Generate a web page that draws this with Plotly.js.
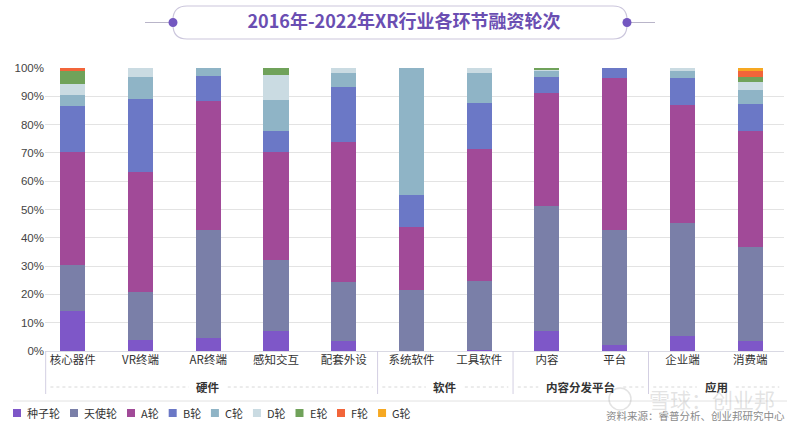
<!DOCTYPE html>
<html>
<head>
<meta charset="utf-8">
<script src="https://cdn.plot.ly/plotly-3.0.1.min.js"></script>
<style>
html,body{margin:0;padding:0;background:#fff;}
#chart{width:800px;height:426px;}
</style>
</head>
<body>
<div id="chart"></div>
<script>
// ---- data ----
const categories = ['核心器件','VR终端','AR终端','感知交互','配套外设','系统软件','工具软件','内容','平台','企业端','消费端'];
const groupNames = ['硬件','软件','内容分发平台','应用'];
const groupFirst = [0, 5, 7, 9];
const groupLast  = [4, 6, 8, 10];
const seriesNames = ['种子轮','天使轮','A轮','B轮','C轮','D轮','E轮','F轮','G轮'];
const seedRound  = [14.2, 3.8, 4.5, 7.1, 3.5, 0, 0.4, 7.0, 2.2, 5.3, 3.7];
const angelRound = [16.2, 17.0, 38.1, 25.2, 20.8, 21.6, 24.5, 44.3, 40.5, 39.9, 32.9];
const roundA     = [39.9, 42.4, 45.6, 38.0, 49.4, 22.2, 46.6, 39.9, 53.8, 41.8, 41.0];
const roundB     = [16.1, 25.7, 9.0, 7.3, 19.5, 11.2, 16.1, 5.5, 3.5, 9.5, 9.7];
const roundC     = [3.9, 8.0, 2.8, 11.0, 4.9, 45.0, 10.5, 2.2, 0, 2.6, 5.0];
const roundD     = [4.0, 3.1, 0, 8.8, 1.9, 0, 1.9, 0.4, 0, 0.9, 2.7];
const roundE     = [4.5, 0, 0, 2.6, 0, 0, 0, 0.7, 0, 0, 1.7];
const roundF     = [1.2, 0, 0, 0, 0, 0, 0, 0, 0, 0, 2.4];
const roundG     = [0, 0, 0, 0, 0, 0, 0, 0, 0, 0, 0.9];
const seriesValues = [seedRound, angelRound, roundA, roundB, roundC, roundD, roundE, roundF, roundG];
const yTickVals = [0, 10, 20, 30, 40, 50, 60, 70, 80, 90, 100];
const yTickText = ['0%','10%','20%','30%','40%','50%','60%','70%','80%','90%','100%'];
const titleText = '2016年-2022年XR行业各环节融资轮次';
const sourceText = '资料来源：睿普分析、创业邦研究中心';
const watermarkText = '雪球：创业邦';

// ---- styles ----
const colors = ['#7E57C8','#7A7FA8','#A14A98','#6B78C6','#8FB4C6','#CADBE2','#70A25A','#F2653A','#F6A822'];
const FONT = '"Liberation Sans", "Noto Sans CJK SC", sans-serif';
const CJK = '"Noto Sans CJK SC", "Liberation Sans", sans-serif';

// pixel -> paper helpers (plot area 45..784 x, 68..351 y)
const PL = 45, PR = 784, PT = 68, PB = 351;
const px = p => (p - PL) / (PR - PL);
const py = p => (PB - p) / (PB - PT);

const traces = seriesNames.map((n, i) => ({
  type: 'bar',
  name: n,
  x: categories,
  y: seriesValues[i],
  marker: {color: colors[i], line: {width: 0}},
  hoverinfo: 'skip',
  showlegend: false
}));

const shapes = [];
const annotations = [];

// group dividers & dotted lines & labels
const divY = py(394);
const grpY = py(387);
const divCol = '#d3cfe2';
groupNames.forEach((g, k) => {
  const a = groupFirst[k] - 0.5, b = groupLast[k] + 0.5;
  const left = k === 0 ? -0.4 : a;
  shapes.push({type:'line', xref:'x', yref:'paper', x0:left, x1:left, y0:0, y1:divY, line:{color:divCol, width:1}});
  if (k === groupNames.length - 1) {
    shapes.push({type:'line', xref:'x', yref:'paper', x0:b + 0.02, x1:b + 0.02, y0:0, y1:divY, line:{color:divCol, width:1}});
  }
  const c = (groupFirst[k] + groupLast[k]) / 2;
  const half = (g.length * 11.5 / 2 + 8) / 67.7;
  shapes.push({type:'line', xref:'x', yref:'paper', x0:left + 0.07, x1:c - half, y0:grpY, y1:grpY, line:{color:'#d8d8d8', width:1, dash:'dot'}});
  shapes.push({type:'line', xref:'x', yref:'paper', x0:c + half, x1:b - 0.07, y0:grpY, y1:grpY, line:{color:'#d8d8d8', width:1, dash:'dot'}});
  annotations.push({xref:'x', yref:'paper', x:c, y:grpY, text:'<b>' + g + '</b>', showarrow:false,
    font:{family:CJK, size:11.5, color:'#333'}, xanchor:'center', yanchor:'middle'});
});

// separator above legend
shapes.push({type:'line', xref:'paper', yref:'paper', x0:px(13), x1:px(787), y0:py(401), y1:py(401), line:{color:'#e2e2e2', width:1}});

// legend (squares + labels), laid out from measured text widths
const legFont = 11;
const ctx = document.createElement('canvas').getContext('2d');
ctx.font = legFont + 'px "Noto Sans CJK SC"';
let lx = 13;
const ly = 413, sq = 8;
seriesNames.forEach((n, i) => {
  shapes.push({type:'rect', xref:'paper', yref:'paper', xsizemode:'pixel', ysizemode:'pixel', xanchor:px(lx), yanchor:py(ly),
    x0:0, x1:sq, y0:-sq/2, y1:sq/2, fillcolor:colors[i], line:{width:0}});
  annotations.push({xref:'paper', yref:'paper', x:px(lx + sq + 5), y:py(ly), text:n, showarrow:false,
    xanchor:'left', yanchor:'middle', xshift:-1, font:{family:CJK, size:legFont, color:'#333'}});
  const tw = ctx.measureText(n).width;
  lx += sq + 5 + tw + 11;
});

// title decoration
const tcx = px(400), tcy = py(22.5);
const hw = 227, hh = 16.5, r = 14;
shapes.push({type:'path', xref:'paper', yref:'paper', xsizemode:'pixel', ysizemode:'pixel', xanchor:tcx, yanchor:tcy,
  path:`M${-hw+r},${hh} L${hw-r},${hh} Q${hw},${hh} ${hw},${hh-r} L${hw},${-(hh-r)} Q${hw},${-hh} ${hw-r},${-hh} L${-(hw-r)},${-hh} Q${-hw},${-hh} ${-hw},${-(hh-r)} L${-hw},${hh-r} Q${-hw},${hh} ${-(hw-r)},${hh} Z`,
  line:{color:'#cbc6dc', width:1.2}, fillcolor:'rgba(0,0,0,0)'});
shapes.push({type:'line', xref:'paper', yref:'paper', x0:px(145), x1:px(173), y0:tcy, y1:tcy, line:{color:'#b9b5c9', width:1}});
shapes.push({type:'line', xref:'paper', yref:'paper', x0:px(627), x1:px(655), y0:tcy, y1:tcy, line:{color:'#b9b5c9', width:1}});
[173, 627].forEach(cx => {
  shapes.push({type:'circle', xref:'paper', yref:'paper', xsizemode:'pixel', ysizemode:'pixel', xanchor:px(cx), yanchor:tcy,
    x0:-4.5, x1:4.5, y0:-4.5, y1:4.5, fillcolor:'#7357C0', line:{width:0}});
});

// source text
annotations.push({xref:'paper', yref:'paper', x:px(787), y:py(415), text:sourceText, showarrow:false,
  xanchor:'right', yanchor:'middle', font:{family:CJK, size:10.5, color:'#8a8a8a'}});
// watermark (faint, as in the reference)
annotations.push({xref:'paper', yref:'paper', x:px(712), y:py(399), text:watermarkText, showarrow:false,
  xanchor:'center', yanchor:'middle', font:{family:CJK, size:21, color:'rgba(175,175,175,0.35)'}});
shapes.push({type:'circle', xref:'paper', yref:'paper', xsizemode:'pixel', ysizemode:'pixel', xanchor:px(620), yanchor:py(399),
  x0:-11, x1:11, y0:-11, y1:11, fillcolor:'rgba(0,0,0,0)', line:{color:'rgba(175,175,175,0.35)', width:1.5}});

const layout = {
  width: 800, height: 426,
  paper_bgcolor: '#fff', plot_bgcolor: '#fff',
  margin: {l: PL, r: 800 - PR, t: PT, b: 426 - PB, pad: 0, autoexpand: false},
  barmode: 'stack',
  bargap: 0.63,
  showlegend: false,
  font: {family: FONT, color: '#333'},
  title: {text: titleText, xref: 'container', x: 0.505, xanchor: 'center', yref: 'container', y: 1 - 22/426, yanchor: 'middle',
    font: {family: CJK, size: 18, color: '#6A4EB2', weight: 'bold'}},
  xaxis: {type: 'category', range: [-0.41, 10.5], showgrid: false, zeroline: false, showline: false, ticks: '',
    tickfont: {family: CJK, size: 11.5, color: '#333'}, fixedrange: true},
  yaxis: {range: [0, 100], tickmode: 'array', tickvals: yTickVals, ticktext: yTickText, showgrid: true, gridcolor: '#e3e3e3', gridwidth: 1,
    zeroline: true, zerolinecolor: '#d9d9e3', zerolinewidth: 1, showline: false, ticks: '',
    tickfont: {family: FONT, size: 11.5, color: '#444'}, fixedrange: true},
  shapes: shapes,
  annotations: annotations
};

Plotly.newPlot('chart', traces, layout, {displayModeBar: false, staticPlot: true});
</script>
</body>
</html>
